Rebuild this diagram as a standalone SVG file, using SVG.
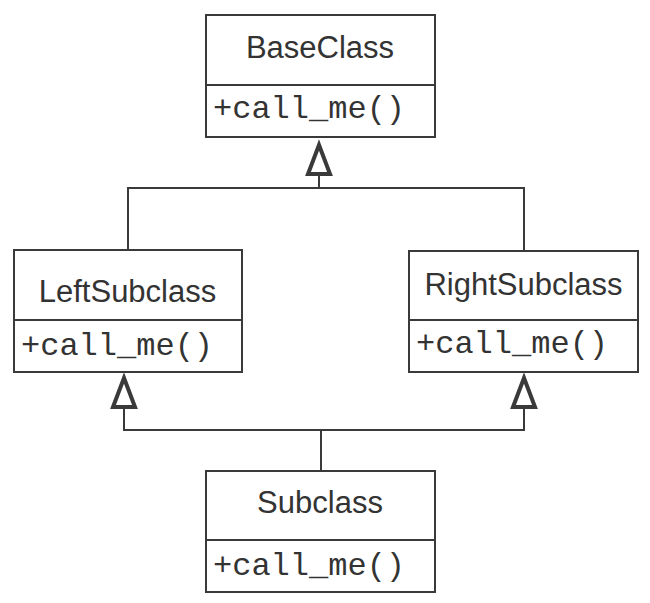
<svg xmlns="http://www.w3.org/2000/svg" width="650" height="603" viewBox="0 0 650 603">
<style>
.box{fill:#fff;stroke:#3a3a3a;stroke-width:2}
.name{font-family:"Liberation Sans",Arial,sans-serif;font-size:31px;fill:#333;text-anchor:middle}
.op{font-family:"Liberation Mono","Courier New",monospace;font-size:32px;fill:#333}
.wire{fill:none;stroke:#3a3a3a;stroke-width:2}
.tri{fill:#fff;stroke:#3a3a3a;stroke-width:4;stroke-linejoin:miter}
</style>
<rect width="650" height="603" fill="#fff"/>
<g id="connectors">
<path class="wire" d="M128,250 V188 H524 V251"/>
<path class="wire" d="M319,188 V173"/>
<path class="tri" d="M319,145 L308,174 L330,174 Z"/>
<path class="wire" d="M124,408 V430 H524 V408"/>
<path class="wire" d="M321,430 V471"/>
<path class="tri" d="M124,378 L113,407 L135,407 Z"/>
<path class="tri" d="M524,378 L513,407 L535,407 Z"/>
</g>
<g id="BaseClass">
<rect class="box" x="206" y="15" width="229" height="122"/>
<line class="box" x1="206" y1="85" x2="435" y2="85"/>
<text class="name" x="320" y="58">BaseClass</text>
<text class="op" x="213" y="118">+call_me()</text>
</g>
<g id="LeftSubclass">
<rect class="box" x="14" y="250" width="228" height="122"/>
<line class="box" x1="14" y1="320" x2="242" y2="320"/>
<text class="name" x="127.5" y="302">LeftSubclass</text>
<text class="op" x="21" y="355">+call_me()</text>
</g>
<g id="RightSubclass">
<rect class="box" x="409" y="251" width="229" height="121"/>
<line class="box" x1="409" y1="320" x2="638" y2="320"/>
<text class="name" x="523.5" y="295">RightSubclass</text>
<text class="op" x="416" y="353">+call_me()</text>
</g>
<g id="Subclass">
<rect class="box" x="206" y="471" width="229" height="121"/>
<line class="box" x1="206" y1="540" x2="435" y2="540"/>
<text class="name" x="320" y="513">Subclass</text>
<text class="op" x="213" y="575">+call_me()</text>
</g>
</svg>
